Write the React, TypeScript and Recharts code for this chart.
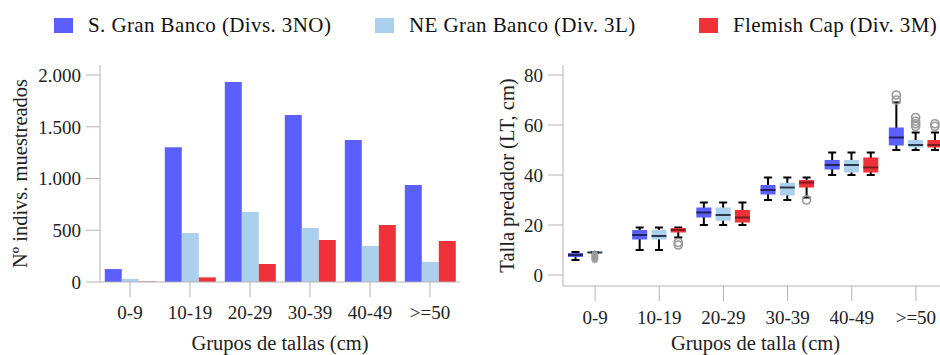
import { BarChart, Bar, XAxis, YAxis } from "recharts";

const groups = ["0-9", "10-19", "20-29", "30-39", "40-49", ">=50"];
const seriesNames = ["S. Gran Banco (Divs. 3NO)", "NE Gran Banco (Div. 3L)", "Flemish Cap (Div. 3M)"];
const seriesColors = ["#5c5fff", "#abd0ee", "#ef3139"];
const medianColors = ["#22225e", "#2a3a4c", "#7c1a1e"];

// left panel: number of sampled individuals
const countSGB = [125, 1303, 1932, 1613, 1372, 937];
const countNEGB = [30, 473, 676, 522, 348, 193];
const countFC = [5, 45, 174, 406, 551, 396];
const countTicks = [0, 500, 1000, 1500, 2000];

// right panel: predator length, [min, q1, median, q3, max]
const boxSGB = [[6, 7.2, 8, 8.8, 9.2], [10, 14.2, 16, 18, 19], [20, 23, 25, 27, 29], [30, 32.2, 34, 36, 39], [40, 42.2, 44, 46, 49], [50, 51.8, 55, 59, 69]];
const boxNEGB = [[9, 9, 9, 9, 9], [10, 14.2, 15.6, 18, 19], [20, 21.7, 24, 27, 29], [30, 31.8, 35, 36.9, 39], [40, 41, 44, 46, 49], [50, 51, 52, 54, 57]];
const boxFC = [null, [15, 17, 18, 18.8, 19], [20, 21, 23, 26, 29], [31, 35, 37, 38, 39], [40, 41, 43, 47, 49], [50, 51, 52, 54, 57]];
const outSGB = [[], [], [], [], [], [70, 72]];
const outNEGB = [[], [], [], [], [], [59.5, 60.5, 61.5, 63]];
const outFC = [[], [12, 13], [], [30], [], [59.5, 60.5]];
const extNEGB = [[8.5, 8, 7.5, 7, 6.5, 6], [], [], [], [], []];
const sizeTicks = [0, 20, 40, 60, 80];

const FONT = "'Liberation Serif', 'Times New Roman', Tinos, 'DejaVu Serif', serif";
const AXIS = "#b4b4b4";
const tickStyle = { fontFamily: FONT, fontSize: 19, fill: "#222" };
const titleStyle = { fontFamily: FONT, fontSize: 20.5, fill: "#222", textAnchor: "middle" as const };

const fmt = (v: number) => String(v).replace(/\B(?=(\d{3})+(?!\d))/g, ".");

const countData = groups.map((g, i) => ({ g, sgb: countSGB[i], negb: countNEGB[i], fc: countFC[i] }));

const span = (box: number[] | null, extra: number[], ext: number[]) => {
  if (!box) return null;
  const all = [...box, ...extra, ...ext];
  return [Math.min(...all), Math.max(...all)];
};

const boxData = groups.map((g, i) => ({
  g,
  sgb: span(boxSGB[i], outSGB[i], []),
  negb: span(boxNEGB[i], outNEGB[i], extNEGB[i]),
  fc: span(boxFC[i], outFC[i], []),
}));

const noExt = groups.map(() => [] as number[]);

function makeBox(boxes: (number[] | null)[], outs: number[][], exts: number[][], color: string, med: string) {
  return (props: any) => {
    const { x, y, width, height, payload } = props;
    const i = groups.indexOf(payload?.g);
    const b = i >= 0 ? boxes[i] : null;
    if (!b || height == null) return <g />;
    const all = [...b, ...outs[i], ...exts[i]];
    const lo = Math.min(...all);
    const hi = Math.max(...all);
    const k = hi > lo ? height / (hi - lo) : 0;
    const py = (v: number) => y + (hi - v) * k;
    const cx = x + width / 2;
    return (
      <g>
        <line x1={cx} x2={cx} y1={py(b[4])} y2={py(b[0])} stroke="#000" strokeWidth={2} />
        <line x1={cx - 4} x2={cx + 4} y1={py(b[4])} y2={py(b[4])} stroke="#000" strokeWidth={2} />
        <line x1={cx - 4} x2={cx + 4} y1={py(b[0])} y2={py(b[0])} stroke="#000" strokeWidth={2} />
        <rect x={x} y={py(b[3])} width={width} height={py(b[1]) - py(b[3])} fill={color} />
        <line x1={x} x2={x + width} y1={py(b[2])} y2={py(b[2])} stroke={med} strokeWidth={2} />
        {outs[i].map((v, j) => (
          <circle key={"o" + j} cx={cx} cy={py(v)} r={4} fill="none" stroke="#9a9a9a" strokeWidth={1.7} />
        ))}
        {exts[i].map((v, j) => (
          <g key={"e" + j} stroke="#9a9a9a" strokeWidth={1.4}>
            <line x1={cx - 3.5} x2={cx + 3.5} y1={py(v)} y2={py(v)} />
            <line x1={cx} x2={cx} y1={py(v) - 3.5} y2={py(v) + 3.5} />
            <line x1={cx - 2.5} x2={cx + 2.5} y1={py(v) - 2.5} y2={py(v) + 2.5} />
            <line x1={cx - 2.5} x2={cx + 2.5} y1={py(v) + 2.5} y2={py(v) - 2.5} />
          </g>
        ))}
      </g>
    );
  };
}

const legendLeft = [54, 375, 699];

export default function App() {
  return (
    <div style={{ position: "absolute", left: 0, top: 0, width: 940, height: 355, overflow: "hidden", background: "#fff" }}>
      {seriesNames.map((name, i) => (
        <div
          key={name}
          style={{ position: "absolute", left: legendLeft[i], top: 13, display: "flex", alignItems: "center", fontFamily: FONT, fontSize: 21, letterSpacing: 0.4, color: "#111", whiteSpace: "nowrap" }}
        >
          <span style={{ display: "inline-block", width: 19, height: 15, background: seriesColors[i], marginRight: 15 }} />
          {name}
        </div>
      ))}

      <div style={{ position: "absolute", left: 0, top: 0 }}>
        <BarChart width={470} height={355} data={countData} margin={{ top: 65, right: 10, left: 0, bottom: 0 }} barCategoryGap="8%" barGap={0}>
          <XAxis
            dataKey="g"
            height={73}
            stroke={AXIS}
            tick={tickStyle}
            tickSize={15}
            tickMargin={9}
            label={{ value: "Grupos de tallas (cm)", position: "insideBottom", offset: 5, style: titleStyle }}
          />
          <YAxis
            width={100}
            domain={[0, 2097]}
            ticks={countTicks}
            tickFormatter={fmt}
            stroke={AXIS}
            tick={tickStyle}
            tickSize={14}
            tickMargin={5}
            label={{ value: "Nº indivs. muestreados", angle: -90, position: "insideLeft", offset: 20, style: titleStyle }}
          />
          <Bar dataKey="sgb" fill={seriesColors[0]} isAnimationActive={false} />
          <Bar dataKey="negb" fill={seriesColors[1]} isAnimationActive={false} />
          <Bar dataKey="fc" fill={seriesColors[2]} isAnimationActive={false} />
        </BarChart>
      </div>

      <div style={{ position: "absolute", left: 470, top: 0 }}>
        <BarChart width={480} height={355} data={boxData} margin={{ top: 65, right: 2, left: 0, bottom: 0 }} barSize={15} barGap={4.3}>
          <XAxis
            dataKey="g"
            height={69}
            stroke={AXIS}
            tick={tickStyle}
            tickSize={15}
            tickMargin={10}
            label={{ value: "Grupos de talla (cm)", position: "insideBottom", offset: 5, style: titleStyle }}
          />
          <YAxis
            width={93}
            domain={[-4.4, 84]}
            ticks={sizeTicks}
            stroke={AXIS}
            tick={tickStyle}
            tickSize={15}
            tickMargin={5}
            label={{ value: "Talla predador (LT, cm)", angle: -90, position: "insideLeft", offset: 37, style: titleStyle }}
          />
          <Bar dataKey="sgb" isAnimationActive={false} shape={makeBox(boxSGB, outSGB, noExt, seriesColors[0], medianColors[0])} />
          <Bar dataKey="negb" isAnimationActive={false} shape={makeBox(boxNEGB, outNEGB, extNEGB, seriesColors[1], medianColors[1])} />
          <Bar dataKey="fc" isAnimationActive={false} shape={makeBox(boxFC, outFC, noExt, seriesColors[2], medianColors[2])} />
        </BarChart>
      </div>
    </div>
  );
}
